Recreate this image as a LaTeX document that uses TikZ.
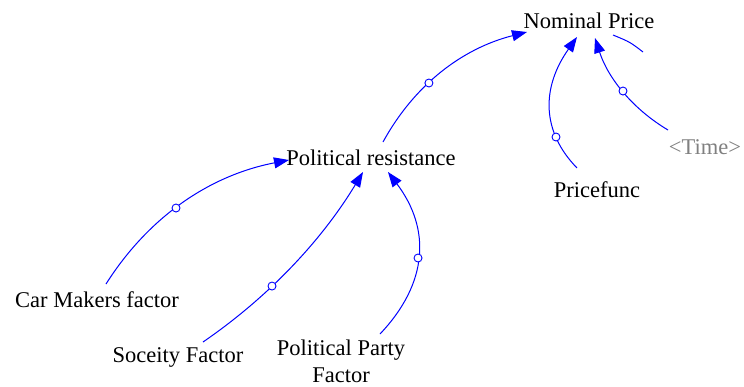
\documentclass[tikz,border=0pt]{standalone}
\usepackage{fontspec}
\setmainfont{Liberation Serif}
\usetikzlibrary{arrows.meta,calc}
\definecolor{linkblue}{RGB}{0,0,255}
\definecolor{shadowgray}{RGB}{128,128,128}
\tikzset{
  var/.style={inner sep=0pt, font=\fontsize{22.5}{27}\selectfont, text=black},
  shadowvar/.style={var, text=shadowgray},
  link/.style={draw=linkblue, line width=1pt, -{Triangle[length=15pt,width=11pt]}},
  plainlink/.style={draw=linkblue, line width=1pt},
  handle/.style={circle, draw=linkblue, fill=white, line width=0.9pt, inner sep=0pt, minimum size=8pt}
}
\begin{document}
\begin{tikzpicture}[x=1pt,y=-1pt]
\useasboundingbox (0,0) rectangle (744,386);
\node[var] (np) at (589,21) {Nominal Price};
\node[var] (pr) at (371,158) {Political resistance};
\node[var] (pf) at (597,190) {Pricefunc};
\node[shadowvar] (tm) at (705,147) {<Time>};
\node[var] (cm) at (97,300) {Car Makers factor};
\node[var] (sf) at (178,357) {Soceity Factor};
\node[var, align=center] (pp) at (341,361) {Political Party\\Factor};
\coordinate (stray) at (643,52);

\draw[link] ($(pr)+(12,-16)$) .. controls (414.1,85.2) and (461.9,48.5) .. ($(np)+(-62,11)$) node[handle, pos=0.404] {};
\draw[link] ($(cm)+(9,-16)$) .. controls (148.7,216.7) and (209.7,175.4) .. ($(pr)+(-82,2)$) node[handle, pos=0.457] {};
\draw[link] ($(sf)+(25,-15)$) .. controls (268.2,297.3) and (321.5,240.7) .. ($(pr)+(-8,14)$) node[handle, pos=0.379] {};
\draw[link] ($(pp)+(39,-27)$) .. controls (428.3,283.0) and (430.9,229.0) .. ($(pr)+(17,14)$) node[handle, pos=0.483] {};
\draw[link] ($(pf)+(-20,-22)$) .. controls (541.3,131.3) and (541.3,87.7) .. ($(np)+(-12,16)$) node[handle, pos=0.268] {};
\draw[link] ($(tm)+(-37,-17)$) .. controls (632.3,108.7) and (608,78) .. ($(np)+(6,17)$) node[handle, pos=0.5] {};
\draw[plainlink] ($(np)+(24,14)$) .. controls (630,42) .. (stray);
\end{tikzpicture}
\end{document}
